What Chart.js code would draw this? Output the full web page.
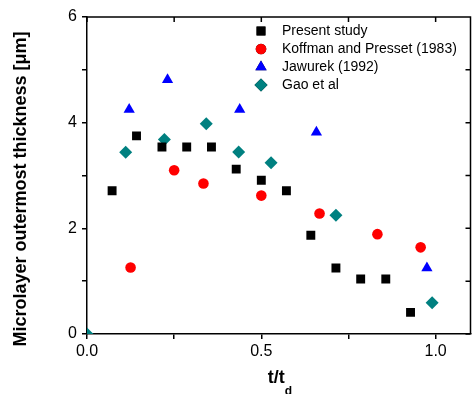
<!DOCTYPE html>
<html>
<head>
<meta charset="utf-8">
<script src="https://cdn.jsdelivr.net/npm/chart.js@4/dist/chart.umd.min.js"></script>
<style>
  html, body { margin: 0; padding: 0; background: #fff; overflow: hidden; }
  canvas { display: block; }
</style>
</head>
<body>
<canvas id="chart" width="477" height="394"></canvas>
<script>
var FONT = '"Liberation Sans", Arial, sans-serif';

// values
var presentX = [0.072, 0.142, 0.215, 0.286, 0.357, 0.428, 0.5, 0.572, 0.642, 0.714, 0.785, 0.857, 0.928];
var presentY = [2.71, 3.75, 3.54, 3.54, 3.54, 3.12, 2.91, 2.71, 1.87, 1.25, 1.04, 1.04, 0.41];
var koffmanX = [0.125, 0.25, 0.334, 0.5, 0.667, 0.833, 0.957];
var koffmanY = [1.26, 3.10, 2.85, 2.62, 2.28, 1.89, 1.64];
var jawurekX = [0.121, 0.231, 0.438, 0.658, 0.975];
var jawurekY = [4.25, 4.81, 4.25, 3.82, 1.25];
var gaoX = [0, 0.111, 0.222, 0.342, 0.435, 0.528, 0.714, 0.99];
var gaoY = [0, 3.44, 3.68, 3.98, 3.445, 3.24, 2.25, 0.59];

var seriesNames = ['Present study', 'Koffman and Presset (1983)', 'Jawurek (1992)', 'Gao et al'];
var yTitle = 'Microlayer outermost thickness [\u03bcm]';

function pts(xs, ys) {
    return xs.map(function (x, i) { return { x: x, y: ys[i] }; });
}

var datasets = [
    { label: seriesNames[0], data: pts(presentX, presentY), pointStyle: 'rect', pointRadius: 6.3, backgroundColor: '#000000', borderColor: '#000000' },
    { label: seriesNames[1], data: pts(koffmanX, koffmanY), pointStyle: 'circle', pointRadius: 5.3, backgroundColor: '#ff0000', borderColor: '#ff0000' },
    { label: seriesNames[2], data: pts(jawurekX, jawurekY), pointStyle: 'triangle', pointRadius: 6.5, backgroundColor: '#0000ff', borderColor: '#0000ff' },
    { label: seriesNames[3], data: pts(gaoX, gaoY), pointStyle: 'rectRot', pointRadius: 6.5, backgroundColor: '#008080', borderColor: '#008080' }
];
datasets.forEach(function (d) { d.borderWidth = 0; d.pointBorderWidth = 0; d.showLine = false; });

// top/right frame with inward ticks, titles and the legend
var extras = {
    id: 'extras',
    afterDraw: function (chart) {
        var ctx = chart.ctx;
        var a = chart.chartArea;
        var xs = chart.scales.x, ys = chart.scales.y;
        ctx.save();
        ctx.strokeStyle = '#000';
        ctx.lineWidth = 1.5;
        ctx.beginPath();
        ctx.moveTo(a.left, a.top);
        ctx.lineTo(a.right, a.top);
        ctx.lineTo(a.right, a.bottom);
        xs.ticks.forEach(function (t) {
            var px = xs.getPixelForValue(t.value);
            ctx.moveTo(px, a.top);
            ctx.lineTo(px, a.top + 5);
        });
        ys.ticks.forEach(function (t) {
            var py = ys.getPixelForValue(t.value);
            ctx.moveTo(a.right, py);
            ctx.lineTo(a.right - 5, py);
        });
        ctx.stroke();

        // y title
        ctx.fillStyle = '#000';
        ctx.font = 'bold 18px ' + FONT;
        ctx.textAlign = 'center';
        ctx.textBaseline = 'middle';
        ctx.save();
        ctx.translate(21, 189);
        ctx.rotate(-Math.PI / 2);
        ctx.fillText(yTitle, 0, 0);
        ctx.restore();

        // x title t/t with subscript d
        ctx.textAlign = 'left';
        ctx.textBaseline = 'alphabetic';
        ctx.font = 'bold 18px ' + FONT;
        var w1 = ctx.measureText('t/t').width;
        ctx.font = 'bold 12px ' + FONT;
        var w2 = ctx.measureText('d').width;
        var sx = 280 - (w1 + w2) / 2;
        ctx.font = 'bold 18px ' + FONT;
        ctx.fillText('t/t', sx, 383);
        ctx.font = 'bold 12px ' + FONT;
        ctx.fillText('d', sx + w1, 395);

        // legend
        ctx.font = '14px ' + FONT;
        ctx.textBaseline = 'middle';
        chart.data.datasets.forEach(function (d, i) {
            var y = 31 + i * 18;
            Chart.helpers.drawPoint(ctx, {
                pointStyle: d.pointStyle,
                radius: d.pointRadius,
                rotation: 0,
                borderWidth: 0
            }, 261, y);
            ctx.fillStyle = d.backgroundColor;
            ctx.fill();
            ctx.fillStyle = '#000';
            ctx.fillText(d.label, 282, y);
        });
        ctx.restore();
    }
};

new Chart(document.getElementById('chart').getContext('2d'), {
    type: 'scatter',
    data: { datasets: datasets },
    options: {
        responsive: false,
        animation: false,
        devicePixelRatio: 1,
        layout: { padding: { top: 17, right: 0, left: 0, bottom: 0 } },
        plugins: {
            legend: { display: false },
            tooltip: { enabled: false }
        },
        scales: {
            x: {
                type: 'linear',
                min: 0,
                max: 1.1,
                afterFit: function (s) { s.height = 60; s.paddingLeft = 0; s.paddingRight = 0; },
                border: { display: true, color: '#000', width: 1.5 },
                grid: { drawOnChartArea: false, drawTicks: true, tickLength: 5, color: '#000', lineWidth: 1.5 },
                ticks: {
                    stepSize: 0.25,
                    includeBounds: false,
                    autoSkip: false,
                    maxRotation: 0,
                    padding: 3,
                    color: '#000',
                    font: { family: FONT, size: 16 },
                    callback: function (v) {
                        return Math.abs(v * 2 - Math.round(v * 2)) < 1e-6 ? v.toFixed(1) : '';
                    }
                }
            },
            y: {
                type: 'linear',
                min: 0,
                max: 6,
                afterFit: function (s) { s.width = 87; s.paddingTop = 0; s.paddingBottom = 0; },
                border: { display: true, color: '#000', width: 1.5 },
                grid: { drawOnChartArea: false, drawTicks: true, tickLength: 5, color: '#000', lineWidth: 1.5 },
                ticks: {
                    stepSize: 1,
                    autoSkip: false,
                    padding: 5,
                    color: '#000',
                    font: { family: FONT, size: 16 },
                    callback: function (v) { return v % 2 === 0 ? String(v) : ''; }
                }
            }
        }
    },
    plugins: [extras]
});
</script>
</body>
</html>
